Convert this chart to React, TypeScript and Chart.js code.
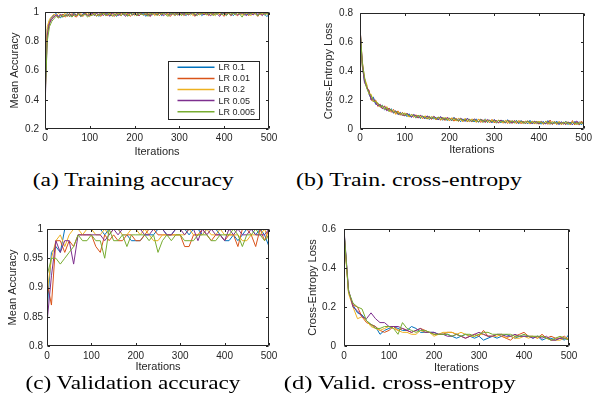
import React, { useEffect, useLayoutEffect, useRef } from "react";
import { Chart, registerables } from "chart.js";

Chart.register(...registerables);

// ---------------- data ----------------
const seriesLabels = ["LR 0.1", "LR 0.01", "LR 0.2", "LR 0.05", "LR 0.005"];
const seriesColors = ["#0072BD", "#D95319", "#EDB120", "#7E2F8E", "#77AC30"];

const xTicks = [0, 100, 200, 300, 400, 500];
const accTicksTrain = [0.2, 0.4, 0.6, 0.8, 1];
const lossTicksTrain = [0, 0.2, 0.4, 0.6, 0.8];
const accTicksVal = [0.8, 0.85, 0.9, 0.95, 1];
const lossTicksVal = [0, 0.2, 0.4, 0.6];

const trainIters = [
  0, 5, 10, 15, 20, 25, 30, 35, 40, 45,
  50, 55, 60, 65, 70, 75, 80, 85, 90, 95,
  100, 105, 110, 115, 120, 125, 130, 135, 140, 145,
  150, 155, 160, 165, 170, 175, 180, 185, 190, 195,
  200, 205, 210, 215, 220, 225, 230, 235, 240, 245,
  250, 255, 260, 265, 270, 275, 280, 285, 290, 295,
  300, 305, 310, 315, 320, 325, 330, 335, 340, 345,
  350, 355, 360, 365, 370, 375, 380, 385, 390, 395,
  400, 405, 410, 415, 420, 425, 430, 435, 440, 445,
  450, 455, 460, 465, 470, 475, 480, 485, 490, 495,
  500,
];

const valIters = [
  0, 10, 20, 30, 40, 50, 60, 70, 80, 90,
  100, 110, 120, 130, 140, 150, 160, 170, 180, 190,
  200, 210, 220, 230, 240, 250, 260, 270, 280, 290,
  300, 310, 320, 330, 340, 350, 360, 370, 380, 390,
  400, 410, 420, 430, 440, 450, 460, 470, 480, 490,
  500,
];

// (a) training accuracy
const trainAccLR01 = [
  0.45, 0.88, 0.94, 0.965, 0.98, 0.99, 0.97, 0.96, 0.985, 0.975,
  0.99, 0.97, 0.98, 0.995, 0.975, 0.985, 0.97, 0.99, 0.98, 1.0,
  0.975, 0.99, 0.98, 0.995, 0.97, 0.985, 1.0, 0.98, 0.99, 0.975,
  0.995, 0.985, 0.97, 0.99, 1.0, 0.98, 0.99, 0.975, 0.995, 0.985,
  0.99, 0.975, 1.0, 0.985, 0.99, 0.97, 0.995, 0.985, 0.98, 1.0,
  0.985, 0.995, 0.975, 0.99, 1.0, 0.98, 0.99, 0.995, 0.975, 0.99,
  1.0, 0.985, 0.99, 0.975, 0.995, 0.99, 1.0, 0.98, 0.99, 0.995,
  0.975, 0.99, 1.0, 0.985, 0.99, 0.995, 0.98, 0.99, 1.0, 0.985,
  0.995, 0.98, 0.99, 1.0, 0.975, 0.99, 0.995, 0.985, 0.99, 1.0,
  0.98, 0.995, 0.985, 0.99, 1.0, 0.975, 0.99, 0.995, 0.985, 0.97,
  0.98,
];
const trainAccLR001 = [
  0.4, 0.85, 0.93, 0.955, 0.97, 0.98, 0.96, 0.975, 0.985, 0.965,
  0.98, 0.97, 0.99, 0.975, 0.965, 0.985, 0.98, 0.97, 0.99, 0.98,
  0.97, 0.985, 0.995, 0.975, 0.985, 0.97, 0.99, 0.98, 0.975, 0.995,
  0.98, 0.97, 0.99, 0.985, 0.975, 0.995, 0.98, 0.99, 0.97, 0.985,
  0.995, 0.98, 0.975, 0.99, 1.0, 0.98, 0.985, 0.97, 0.99, 0.98,
  0.995, 0.975, 0.99, 0.985, 1.0, 0.98, 0.97, 0.99, 0.995, 0.98,
  0.985, 1.0, 0.975, 0.99, 0.98, 0.995, 0.985, 0.97, 0.99, 0.98,
  1.0, 0.985, 0.99, 0.975, 0.995, 0.98, 0.99, 1.0, 0.98, 0.985,
  0.97, 0.995, 0.99, 0.98, 1.0, 0.985, 0.975, 0.99, 0.995, 0.98,
  0.99, 0.975, 1.0, 0.985, 0.99, 0.97, 0.995, 0.98, 0.99, 1.0,
  0.985,
];
const trainAccLR02 = [
  0.55, 0.9, 0.95, 0.97, 0.985, 0.975, 0.99, 0.98, 0.97, 0.995,
  0.98, 0.99, 0.975, 0.985, 1.0, 0.98, 0.99, 0.975, 0.995, 0.985,
  0.99, 1.0, 0.98, 0.99, 0.975, 0.995, 0.985, 0.99, 1.0, 0.98,
  0.985, 0.995, 0.975, 1.0, 0.99, 0.985, 0.995, 0.98, 0.99, 1.0,
  0.975, 0.99, 0.995, 0.985, 0.98, 1.0, 0.99, 0.985, 0.995, 0.975,
  0.99, 1.0, 0.985, 0.995, 0.98, 0.99, 1.0, 0.985, 0.975, 0.995,
  0.99, 0.98, 1.0, 0.99, 0.985, 0.995, 0.975, 0.99, 1.0, 0.985,
  0.99, 0.995, 0.98, 1.0, 0.985, 0.99, 0.975, 0.995, 0.99, 1.0,
  0.985, 0.99, 0.995, 0.975, 0.99, 1.0, 0.985, 0.995, 0.98, 0.99,
  1.0, 0.985, 0.975, 0.995, 0.99, 1.0, 0.98, 0.99, 0.995, 0.985,
  0.99,
];
const trainAccLR005 = [
  0.33, 0.84, 0.92, 0.95, 0.965, 0.98, 0.97, 0.985, 0.965, 0.98,
  0.975, 0.99, 0.97, 0.985, 0.98, 0.995, 0.97, 0.985, 0.99, 0.975,
  0.985, 0.995, 0.975, 0.99, 0.98, 1.0, 0.975, 0.99, 0.985, 0.97,
  0.995, 0.98, 0.99, 0.975, 1.0, 0.985, 0.97, 0.99, 0.995, 0.98,
  0.985, 1.0, 0.975, 0.99, 0.98, 0.995, 0.985, 0.97, 1.0, 0.99,
  0.98, 0.995, 0.985, 0.975, 0.99, 1.0, 0.98, 0.99, 0.985, 0.995,
  0.975, 0.99, 0.985, 1.0, 0.98, 0.99, 0.995, 0.975, 0.985, 1.0,
  0.99, 0.98, 0.995, 0.985, 0.975, 0.99, 1.0, 0.985, 0.97, 0.995,
  0.99, 0.985, 1.0, 0.975, 0.99, 0.995, 0.98, 0.99, 1.0, 0.985,
  0.975, 0.995, 0.99, 0.98, 1.0, 0.985, 0.99, 0.975, 0.995, 0.99,
  0.985,
];
const trainAccLR0005 = [
  0.38, 0.8, 0.9, 0.935, 0.955, 0.97, 0.96, 0.975, 0.965, 0.98,
  0.97, 0.985, 0.965, 0.98, 0.975, 0.99, 0.97, 0.98, 0.985, 0.965,
  0.98, 0.975, 0.99, 0.97, 0.985, 0.98, 0.995, 0.975, 0.985, 0.99,
  0.97, 0.985, 0.98, 0.995, 0.975, 0.99, 0.985, 0.97, 0.99, 0.98,
  0.995, 0.975, 0.99, 0.985, 0.98, 0.995, 0.97, 0.99, 0.985, 1.0,
  0.975, 0.99, 0.985, 0.995, 0.98, 0.97, 0.99, 0.985, 0.995, 0.98,
  0.99, 0.975, 1.0, 0.985, 0.99, 0.98, 0.995, 0.985, 0.975, 0.99,
  0.985, 1.0, 0.98, 0.99, 0.995, 0.975, 0.99, 0.985, 1.0, 0.98,
  0.99, 0.975, 0.995, 0.985, 0.99, 0.98, 1.0, 0.985, 0.965, 0.99,
  0.995, 0.98, 0.99, 1.0, 0.985, 0.975, 0.99, 0.995, 0.98, 0.99,
  0.985,
];

// (b) training cross-entropy
const trainLossLR01 = [
  0.69, 0.44, 0.33, 0.3, 0.24, 0.21, 0.22, 0.17, 0.18, 0.15,
  0.165, 0.13, 0.15, 0.12, 0.14, 0.11, 0.125, 0.1, 0.115, 0.09,
  0.11, 0.085, 0.105, 0.08, 0.1, 0.075, 0.095, 0.072, 0.09, 0.07,
  0.09, 0.065, 0.085, 0.068, 0.08, 0.062, 0.085, 0.06, 0.078, 0.058,
  0.075, 0.056, 0.08, 0.055, 0.072, 0.05, 0.07, 0.052, 0.075, 0.05,
  0.068, 0.048, 0.07, 0.046, 0.066, 0.045, 0.07, 0.044, 0.062, 0.042,
  0.065, 0.04, 0.062, 0.042, 0.06, 0.04, 0.064, 0.038, 0.058, 0.04,
  0.06, 0.036, 0.058, 0.038, 0.055, 0.035, 0.06, 0.036, 0.052, 0.034,
  0.055, 0.033, 0.052, 0.035, 0.058, 0.032, 0.05, 0.034, 0.054, 0.03,
  0.05, 0.032, 0.055, 0.03, 0.048, 0.029, 0.052, 0.03, 0.05, 0.028,
  0.055,
];
const trainLossLR001 = [
  0.7, 0.47, 0.35, 0.28, 0.27, 0.2, 0.19, 0.2, 0.155, 0.17,
  0.14, 0.16, 0.13, 0.145, 0.115, 0.135, 0.105, 0.125, 0.095, 0.115,
  0.09, 0.108, 0.085, 0.1, 0.08, 0.098, 0.075, 0.095, 0.07, 0.09,
  0.068, 0.088, 0.066, 0.084, 0.062, 0.082, 0.06, 0.08, 0.058, 0.078,
  0.056, 0.076, 0.054, 0.074, 0.052, 0.07, 0.05, 0.072, 0.048, 0.068,
  0.048, 0.066, 0.046, 0.068, 0.045, 0.064, 0.044, 0.062, 0.042, 0.066,
  0.042, 0.06, 0.04, 0.062, 0.04, 0.058, 0.038, 0.06, 0.038, 0.056,
  0.036, 0.058, 0.036, 0.054, 0.035, 0.056, 0.034, 0.052, 0.034, 0.055,
  0.033, 0.05, 0.032, 0.053, 0.032, 0.062, 0.031, 0.05, 0.03, 0.052,
  0.03, 0.048, 0.029, 0.05, 0.028, 0.058, 0.028, 0.05, 0.027, 0.055,
  0.032,
];
const trainLossLR02 = [
  0.68, 0.43, 0.35, 0.31, 0.24, 0.24, 0.19, 0.19, 0.18, 0.15,
  0.16, 0.135, 0.155, 0.12, 0.13, 0.125, 0.1, 0.12, 0.11, 0.092,
  0.112, 0.095, 0.082, 0.1, 0.092, 0.078, 0.095, 0.085, 0.072, 0.09,
  0.085, 0.068, 0.086, 0.078, 0.065, 0.082, 0.074, 0.062, 0.08, 0.07,
  0.058, 0.078, 0.068, 0.055, 0.074, 0.065, 0.052, 0.072, 0.062, 0.05,
  0.07, 0.06, 0.048, 0.068, 0.058, 0.046, 0.066, 0.056, 0.045, 0.064,
  0.054, 0.043, 0.062, 0.052, 0.042, 0.06, 0.05, 0.04, 0.058, 0.049,
  0.039, 0.057, 0.048, 0.038, 0.056, 0.047, 0.037, 0.055, 0.046, 0.036,
  0.054, 0.045, 0.035, 0.053, 0.044, 0.034, 0.052, 0.043, 0.033, 0.05,
  0.042, 0.032, 0.05, 0.041, 0.031, 0.048, 0.04, 0.03, 0.047, 0.039,
  0.036,
];
const trainLossLR005 = [
  0.71, 0.45, 0.32, 0.29, 0.26, 0.2, 0.21, 0.175, 0.16, 0.17,
  0.14, 0.155, 0.125, 0.14, 0.13, 0.11, 0.125, 0.1, 0.112, 0.098,
  0.09, 0.108, 0.095, 0.082, 0.1, 0.09, 0.078, 0.095, 0.084, 0.074,
  0.09, 0.08, 0.07, 0.088, 0.076, 0.066, 0.085, 0.072, 0.064, 0.08,
  0.07, 0.06, 0.078, 0.066, 0.058, 0.075, 0.064, 0.055, 0.072, 0.062,
  0.052, 0.07, 0.06, 0.05, 0.068, 0.058, 0.048, 0.066, 0.056, 0.047,
  0.064, 0.054, 0.045, 0.062, 0.052, 0.044, 0.06, 0.05, 0.042, 0.058,
  0.048, 0.041, 0.056, 0.047, 0.04, 0.055, 0.046, 0.038, 0.054, 0.045,
  0.037, 0.052, 0.044, 0.036, 0.05, 0.043, 0.035, 0.049, 0.042, 0.034,
  0.048, 0.041, 0.033, 0.047, 0.04, 0.032, 0.046, 0.055, 0.031, 0.045,
  0.03,
];
const trainLossLR0005 = [
  0.7, 0.46, 0.36, 0.28, 0.25, 0.23, 0.19, 0.19, 0.175, 0.155,
  0.16, 0.14, 0.145, 0.125, 0.135, 0.115, 0.12, 0.11, 0.1, 0.112,
  0.095, 0.104, 0.088, 0.098, 0.092, 0.08, 0.096, 0.076, 0.09, 0.08,
  0.072, 0.087, 0.074, 0.08, 0.068, 0.083, 0.066, 0.078, 0.07, 0.062,
  0.076, 0.06, 0.072, 0.065, 0.056, 0.07, 0.058, 0.066, 0.054, 0.068,
  0.052, 0.064, 0.056, 0.05, 0.066, 0.052, 0.06, 0.048, 0.062, 0.05,
  0.058, 0.046, 0.06, 0.048, 0.055, 0.045, 0.058, 0.046, 0.054, 0.044,
  0.056, 0.043, 0.052, 0.046, 0.041, 0.054, 0.044, 0.05, 0.04, 0.052,
  0.042, 0.048, 0.039, 0.05, 0.041, 0.046, 0.038, 0.049, 0.04, 0.044,
  0.037, 0.047, 0.039, 0.043, 0.036, 0.045, 0.038, 0.042, 0.035, 0.044,
  0.034,
];

// (c) validation accuracy
const valAccLR01 = [
  0.86, 0.96, 0.97, 0.96, 1.0, 1.0, 1.0, 1.0, 1.0, 1.0,
  1.0, 1.0, 1.0, 0.99, 1.0, 1.0, 1.0, 0.99, 0.99, 0.98,
  0.98, 0.98, 0.99, 0.99, 0.99, 1.0, 1.0, 0.99, 0.99, 1.0,
  1.0, 1.0, 0.99, 1.0, 1.0, 0.99, 1.0, 1.0, 1.0, 0.99,
  0.98, 0.98, 0.99, 0.98, 0.99, 1.0, 1.0, 0.99, 1.0, 0.99,
  0.97,
];
const valAccLR001 = [
  0.91, 0.87, 0.98, 0.98, 0.96, 0.98, 0.97, 0.99, 0.99, 0.99,
  0.99, 0.97, 0.96, 0.99, 0.98, 0.99, 0.98, 0.98, 0.99, 0.99,
  0.98, 0.98, 0.99, 1.0, 1.0, 0.99, 0.99, 0.99, 0.99, 0.99,
  0.99, 0.97, 0.97, 0.99, 0.99, 1.0, 0.99, 0.98, 0.99, 0.99,
  0.98, 0.99, 0.99, 0.97, 1.0, 1.0, 0.99, 0.97, 1.0, 0.98,
  1.0,
];
const valAccLR02 = [
  0.89, 0.95, 0.98, 0.99, 0.97, 0.99, 1.0, 1.0, 0.99, 1.0,
  1.0, 0.99, 0.99, 1.0, 0.99, 1.0, 1.0, 0.99, 0.99, 1.0,
  1.0, 0.99, 1.0, 0.99, 0.98, 0.98, 0.99, 0.99, 0.99, 0.99,
  0.99, 0.99, 1.0, 0.99, 0.99, 0.99, 1.0, 0.99, 0.99, 1.0,
  0.99, 0.99, 0.99, 0.99, 0.98, 0.98, 0.99, 0.99, 0.99, 1.0,
  0.98,
];
const valAccLR005 = [
  0.84, 0.92, 0.98, 0.96, 0.98, 0.98, 0.94, 0.99, 0.99, 0.99,
  0.99, 0.99, 0.99, 0.98, 0.99, 1.0, 0.99, 1.0, 1.0, 1.0,
  1.0, 1.0, 0.99, 0.99, 1.0, 1.0, 1.0, 0.99, 0.99, 1.0,
  1.0, 0.99, 1.0, 1.0, 0.98, 1.0, 0.99, 1.0, 0.99, 0.99,
  0.98, 1.0, 0.99, 1.0, 0.99, 0.99, 1.0, 0.99, 0.99, 0.99,
  1.0,
];
const valAccLR0005 = [
  0.92, 0.95, 0.95, 0.94, 0.95, 0.96, 0.97, 0.99, 0.98, 0.98,
  0.99, 0.98, 0.98, 0.95, 1.0, 0.98, 0.98, 0.99, 0.97, 0.99,
  0.99, 0.99, 0.99, 0.98, 0.99, 0.96, 0.98, 0.99, 0.98, 0.99,
  0.99, 0.98, 0.98, 0.98, 0.99, 0.99, 0.99, 0.98, 0.98, 0.99,
  0.99, 0.99, 1.0, 0.99, 0.97, 0.99, 0.99, 1.0, 0.99, 0.98,
  0.99,
];

// (d) validation cross-entropy
const valLossLR01 = [
  0.59, 0.28, 0.21, 0.17, 0.16, 0.13, 0.11, 0.1, 0.06, 0.08,
  0.09, 0.1, 0.09, 0.08, 0.08, 0.1, 0.09, 0.07, 0.07, 0.07,
  0.07, 0.06, 0.06, 0.06, 0.05, 0.04, 0.05, 0.06, 0.05, 0.04,
  0.05, 0.03, 0.04, 0.05, 0.04, 0.05, 0.06, 0.05, 0.04, 0.05,
  0.05, 0.05, 0.04, 0.05, 0.03, 0.04, 0.04, 0.03, 0.04, 0.03,
  0.06,
];
const valLossLR001 = [
  0.58, 0.28, 0.21, 0.2, 0.15, 0.12, 0.11, 0.1, 0.08, 0.07,
  0.08, 0.1, 0.08, 0.09, 0.08, 0.07, 0.08, 0.09, 0.08, 0.07,
  0.06, 0.06, 0.06, 0.07, 0.07, 0.06, 0.05, 0.04, 0.05, 0.06,
  0.05, 0.08, 0.05, 0.05, 0.06, 0.05, 0.04, 0.03, 0.05, 0.06,
  0.07, 0.05, 0.05, 0.04, 0.06, 0.04, 0.05, 0.04, 0.04, 0.05,
  0.03,
];
const valLossLR02 = [
  0.58, 0.27, 0.2, 0.14, 0.15, 0.13, 0.1, 0.09, 0.08, 0.09,
  0.1, 0.09, 0.08, 0.07, 0.07, 0.06, 0.06, 0.08, 0.07, 0.07,
  0.05, 0.06, 0.07, 0.07, 0.07, 0.06, 0.07, 0.06, 0.05, 0.05,
  0.06, 0.06, 0.05, 0.05, 0.05, 0.06, 0.04, 0.05, 0.04, 0.04,
  0.05, 0.04, 0.05, 0.04, 0.05, 0.04, 0.03, 0.03, 0.03, 0.04,
  0.04,
];
const valLossLR005 = [
  0.6, 0.29, 0.2, 0.18, 0.15, 0.14, 0.17, 0.14, 0.12, 0.12,
  0.1, 0.1, 0.1, 0.09, 0.08, 0.07, 0.08, 0.09, 0.07, 0.07,
  0.07, 0.06, 0.06, 0.05, 0.05, 0.06, 0.05, 0.04, 0.05, 0.06,
  0.07, 0.06, 0.05, 0.05, 0.06, 0.06, 0.05, 0.05, 0.06, 0.05,
  0.05, 0.05, 0.04, 0.05, 0.04, 0.05, 0.03, 0.03, 0.04, 0.04,
  0.03,
];
const valLossLR0005 = [
  0.59, 0.28, 0.22, 0.2, 0.19, 0.13, 0.11, 0.09, 0.09, 0.1,
  0.1, 0.09, 0.06, 0.12, 0.09, 0.08, 0.07, 0.08, 0.08, 0.07,
  0.06, 0.06, 0.06, 0.06, 0.05, 0.06, 0.05, 0.06, 0.06, 0.05,
  0.06, 0.07, 0.07, 0.06, 0.06, 0.06, 0.06, 0.06, 0.05, 0.05,
  0.06, 0.05, 0.05, 0.05, 0.05, 0.04, 0.03, 0.04, 0.05, 0.04,
  0.03,
];

// ---------------- styling / layout ----------------
const AXIS_COLOR = "#262626";
const SANS = "'Liberation Sans', Arial, Helvetica, sans-serif";
const SERIF = "'Liberation Serif', 'Times New Roman', serif";

type PanelSpec = {
  id: string;
  box: { left: number; top: number; width: number; height: number };
  padding: { left: number; top: number; right: number; bottom: number };
  yWidth: number;
  xHeight: number;
  yTitle: string;
  yTitlePad: number;
  xTitlePad: number;
  yTickPad: number;
  xTickPad: number;
  yMin: number;
  yMax: number;
  yTicks: number[];
  iters: number[];
  series: number[][];
  legend: boolean;
};

const panels: PanelSpec[] = [
  {
    id: "a",
    box: { left: 0, top: 0, width: 297, height: 160 },
    padding: { left: 0, top: 12, right: 28, bottom: 0 },
    yWidth: 45,
    xHeight: 31,
    yTitle: "Mean Accuracy",
    yTitlePad: 7.9,
    xTitlePad: 1.9,
    yTickPad: 6,
    xTickPad: 3,
    yMin: 0.2,
    yMax: 1,
    yTicks: accTicksTrain,
    iters: trainIters,
    series: [trainAccLR01, trainAccLR001, trainAccLR02, trainAccLR005, trainAccLR0005],
    legend: true,
  },
  {
    id: "b",
    box: { left: 297, top: 0, width: 298, height: 160 },
    padding: { left: 0, top: 12, right: 11, bottom: 0 },
    yWidth: 63,
    xHeight: 31,
    yTitle: "Cross-Entropy Loss",
    yTitlePad: 25.4,
    xTitlePad: 3.4,
    yTickPad: 7,
    xTickPad: 3,
    yMin: 0,
    yMax: 0.8,
    yTicks: lossTicksTrain,
    iters: trainIters,
    series: [trainLossLR01, trainLossLR001, trainLossLR02, trainLossLR005, trainLossLR0005],
    legend: false,
  },
  {
    id: "c",
    box: { left: 0, top: 215, width: 297, height: 160 },
    padding: { left: 0, top: 14, right: 28, bottom: 0 },
    yWidth: 47,
    xHeight: 29,
    yTitle: "Mean Accuracy",
    yTitlePad: 6.1,
    xTitlePad: 1.4,
    yTickPad: 4,
    xTickPad: 4,
    yMin: 0.8,
    yMax: 1,
    yTicks: accTicksVal,
    iters: valIters,
    series: [valAccLR01, valAccLR001, valAccLR02, valAccLR005, valAccLR0005],
    legend: false,
  },
  {
    id: "d",
    box: { left: 297, top: 215, width: 298, height: 160 },
    padding: { left: 0, top: 14, right: 26, bottom: 0 },
    yWidth: 47,
    xHeight: 29,
    yTitle: "Cross-Entropy Loss",
    yTitlePad: 9.1,
    xTitlePad: 0.4,
    yTickPad: 8,
    xTickPad: 4,
    yMin: 0,
    yMax: 0.6,
    yTicks: lossTicksVal,
    iters: valIters,
    series: [valLossLR01, valLossLR001, valLossLR02, valLossLR005, valLossLR0005],
    legend: false,
  },
];

const captions = [
  { text: "(a) Training accuracy", center: 132.8, top: 169.7, width: 201 },
  { text: "(b) Train. cross-entropy", center: 408.7, top: 169.7, width: 226 },
  { text: "(c) Validation accuracy", center: 132.5, top: 372.7, width: 215 },
  { text: "(d) Valid. cross-entropy", center: 400.2, top: 372.7, width: 232 },
];

const fmt = (v: number) => String(Number(Number(v).toFixed(3)));

// Draws MATLAB-style box with inward ticks, and (optionally) the inset legend.
const matlabAxes = {
  id: "matlabAxes",
  afterDraw(chart: any, _args: any, opts: any) {
    const { ctx, chartArea } = chart;
    const { left, top, right, bottom } = chartArea;
    const xs = chart.scales.x;
    const ys = chart.scales.y;
    const tl = 2.5;
    ctx.save();
    ctx.strokeStyle = AXIS_COLOR;
    ctx.lineWidth = 1;
    const L = Math.round(left) + 0.5;
    const R = Math.round(right) - 0.5;
    const T = Math.round(top) + 0.5;
    const B = Math.round(bottom) - 0.5;
    ctx.beginPath();
    ctx.rect(L, T, R - L, B - T);
    ctx.stroke();
    ctx.beginPath();
    xs.ticks.forEach((t: any) => {
      const px = Math.round(xs.getPixelForValue(t.value)) + 0.5;
      ctx.moveTo(px, B);
      ctx.lineTo(px, B - tl);
      ctx.moveTo(px, T);
      ctx.lineTo(px, T + tl);
    });
    ys.ticks.forEach((t: any) => {
      const py = Math.round(ys.getPixelForValue(t.value)) + 0.5;
      ctx.moveTo(L, py);
      ctx.lineTo(L + tl, py);
      ctx.moveTo(R, py);
      ctx.lineTo(R - tl, py);
    });
    ctx.stroke();

    if (opts && opts.legend) {
      const w = 91;
      const h = 58;
      const bx = Math.round(right - 10 - w) + 0.5;
      const by = Math.round(bottom - 10 - h) + 0.5;
      ctx.fillStyle = "#ffffff";
      ctx.fillRect(bx, by, w, h);
      ctx.strokeStyle = AXIS_COLOR;
      ctx.lineWidth = 1;
      ctx.strokeRect(bx, by, w, h);
      ctx.font = `9px ${SANS}`;
      ctx.textBaseline = "middle";
      ctx.textAlign = "left";
      chart.data.datasets.forEach((ds: any, i: number) => {
        const yy = by + 5.8 + i * 11.1;
        ctx.strokeStyle = ds.borderColor;
        ctx.lineWidth = 1.5;
        ctx.beginPath();
        ctx.moveTo(bx + 9, yy);
        ctx.lineTo(bx + 46, yy);
        ctx.stroke();
        ctx.fillStyle = AXIS_COLOR;
        ctx.fillText(ds.label, bx + 50, yy + 0.5);
      });
    }
    ctx.restore();
  },
};

function Panel({ spec }: { spec: PanelSpec }) {
  const ref = useRef<HTMLCanvasElement | null>(null);
  useEffect(() => {
    if (!ref.current) return;
    const datasets = spec.series.map((vals, i) => ({
      label: seriesLabels[i],
      data: vals.map((v, k) => ({ x: spec.iters[k], y: v })),
      borderColor: seriesColors[i],
      backgroundColor: seriesColors[i],
      borderWidth: 1,
      pointRadius: 0,
      tension: 0,
      fill: false,
      order: seriesLabels.length - 1 - i,
    }));
    const tickFont = { family: SANS, size: 10 };
    const titleFont = { family: SANS, size: 11, lineHeight: 1.2 };
    const chart = new Chart(ref.current, {
      type: "line",
      data: { datasets },
      options: {
        animation: false,
        responsive: false,
        maintainAspectRatio: false,
        devicePixelRatio: 1,
        layout: { padding: spec.padding },
        plugins: {
          legend: { display: false },
          tooltip: { enabled: false },
          matlabAxes: { legend: spec.legend },
        } as any,
        scales: {
          x: {
            type: "linear",
            min: 0,
            max: 500,
            afterBuildTicks: (s: any) => {
              s.ticks = xTicks.map((v) => ({ value: v }));
            },
            afterFit: (s: any) => {
              s.height = spec.xHeight;
            },
            grid: { display: false, drawTicks: false },
            border: { display: false },
            ticks: {
              padding: spec.xTickPad,
              font: tickFont,
              color: AXIS_COLOR,
              maxRotation: 0,
              autoSkip: false,
              callback: (v: any) => fmt(v),
            },
            title: {
              display: true,
              text: "Iterations",
              font: titleFont,
              color: AXIS_COLOR,
              padding: { top: 0, bottom: spec.xTitlePad },
            },
          },
          y: {
            type: "linear",
            min: spec.yMin,
            max: spec.yMax,
            afterBuildTicks: (s: any) => {
              s.ticks = spec.yTicks.map((v) => ({ value: v }));
            },
            afterFit: (s: any) => {
              s.width = spec.yWidth;
            },
            grid: { display: false, drawTicks: false },
            border: { display: false },
            ticks: {
              padding: spec.yTickPad,
              font: tickFont,
              color: AXIS_COLOR,
              autoSkip: false,
              callback: (v: any) => fmt(v),
            },
            title: {
              display: true,
              text: spec.yTitle,
              font: titleFont,
              color: AXIS_COLOR,
              padding: { top: spec.yTitlePad, bottom: 0 },
            },
          },
        },
      } as any,
      plugins: [matlabAxes],
    });
    return () => chart.destroy();
  }, [spec]);
  const b = spec.box;
  return (
    <canvas
      ref={ref}
      width={b.width}
      height={b.height}
      style={{ position: "absolute", left: b.left, top: b.top, width: b.width, height: b.height }}
    />
  );
}

function Caption({ c }: { c: (typeof captions)[number] }) {
  const ref = useRef<HTMLSpanElement | null>(null);
  useLayoutEffect(() => {
    const el = ref.current;
    if (!el) return;
    const natural = el.getBoundingClientRect().width;
    if (natural > 0) el.style.transform = `scaleX(${c.width / natural})`;
  }, [c]);
  return (
    <div
      style={{
        position: "absolute",
        left: c.center - 200,
        top: c.top,
        width: 400,
        textAlign: "center",
        fontFamily: SERIF,
        fontSize: 19,
        lineHeight: "19px",
        color: "#000",
        whiteSpace: "nowrap",
      }}
    >
      <span ref={ref} style={{ display: "inline-block", transformOrigin: "50% 50%" }}>
        {c.text}
      </span>
    </div>
  );
}

export default function App() {
  return (
    <div
      style={{
        position: "absolute",
        left: 0,
        top: 0,
        width: 595,
        height: 418,
        background: "#ffffff",
        overflow: "hidden",
      }}
    >
      {panels.map((p) => (
        <Panel key={p.id} spec={p} />
      ))}
      {captions.map((c) => (
        <Caption key={c.text} c={c} />
      ))}
    </div>
  );
}
